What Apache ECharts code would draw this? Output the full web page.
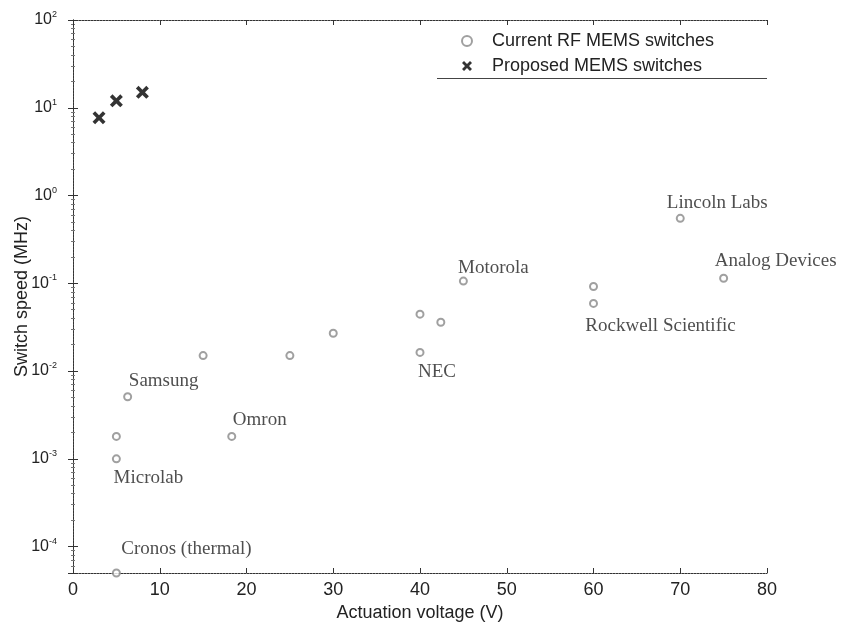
<!DOCTYPE html>
<html><head><meta charset="utf-8">
<script src="https://cdn.jsdelivr.net/npm/echarts@6/dist/echarts.min.js"></script>
<style>html,body{margin:0;padding:0;background:#fff}#c{width:843px;height:627px}</style>
</head><body><div id="c"></div>
<script>
// ---- data ----
var currentVoltage = [5, 5, 5, 6.3, 15, 18.3, 25, 30, 40, 40, 42.4, 45, 60, 60, 70, 75];
var currentSpeed = [5e-5, 0.001, 0.0018, 0.0051, 0.015, 0.0018, 0.015, 0.027, 0.0163, 0.0445, 0.036, 0.106, 0.059, 0.092, 0.55, 0.114];
var currentNames = ['Cronos (thermal)', 'Microlab', '', 'Samsung', '', 'Omron', '', '', 'NEC', '', '', 'Motorola', 'Rockwell Scientific', '', 'Lincoln Labs', 'Analog Devices'];
var proposedVoltage = [3, 5, 8];
var proposedSpeed = [7.7, 12, 15];
var xTicks = [0, 10, 20, 30, 40, 50, 60, 70, 80];
var yDecades = [-4, -3, -2, -1, 0, 1, 2];
var seriesNames = ['Current RF MEMS switches', 'Proposed MEMS switches'];

// ---- label placement (style) ----
var labelOffsets = {
  'Cronos (thermal)': [70, -24],
  'Microlab': [32, 19],
  'Samsung': [36, -16],
  'Omron': [28, -16],
  'NEC': [17, 20],
  'Motorola': [30, -13],
  'Rockwell Scientific': [67, 23],
  'Lincoln Labs': [37, -15],
  'Analog Devices': [52, -17]
};

var crossPath = 'path://M0,2L2,0L5,3L8,0L10,2L7,5L10,8L8,10L5,7L2,10L0,8L3,5Z';

var currentData = currentVoltage.map(function (v, i) {
  var item = { value: [v, currentSpeed[i]] };
  var n = currentNames[i];
  if (n) {
    item.label = {
      show: true, formatter: n, position: 'inside', offset: labelOffsets[n],
      fontFamily: 'Liberation Serif', fontSize: 19, color: '#222'
    };
  }
  return item;
});
var proposedData = proposedVoltage.map(function (v, i) { return [v, proposedSpeed[i]]; });

function yLabel(v) {
  var l = Math.log10(v), e = Math.round(l);
  if (Math.abs(l - e) > 1e-6 || yDecades.indexOf(e) < 0) return '';
  return '{b|10}{s|' + e + '}';
}

var axisLine = { show: true, lineStyle: { color: '#333', width: 1, type: [2, 1] } };
var chart = echarts.init(document.getElementById('c'));
chart.setOption({
  backgroundColor: '#fff',
  animation: false,
  grid: { left: 73, right: 76, top: 20, bottom: 54, containLabel: false, outerBoundsMode: 'none' },
  xAxis: [{
    type: 'value', min: xTicks[0], max: xTicks[xTicks.length - 1], interval: 10,
    name: 'Actuation voltage (V)', nameLocation: 'middle', nameGap: 31,
    nameTextStyle: { fontFamily: 'Liberation Sans', fontSize: 18, color: '#222' },
    axisLine: axisLine, axisTick: { inside: true, length: 5, lineStyle: { color: '#333' } },
    axisLabel: { fontFamily: 'Liberation Sans', fontSize: 18, color: '#222', margin: 8 },
    splitLine: { show: false }
  }, {
    type: 'value', min: xTicks[0], max: xTicks[xTicks.length - 1], interval: 10, position: 'top',
    axisLine: axisLine, axisTick: { inside: true, length: 5, lineStyle: { color: '#333' } },
    axisLabel: { show: false }, splitLine: { show: false }
  }],
  yAxis: [{
    type: 'log', logBase: 10, min: 5e-5, max: 100,
    name: 'Switch speed (MHz)', nameLocation: 'middle', nameGap: 42, nameMoveOverlap: false,
    nameTextStyle: { fontFamily: 'Liberation Sans', fontSize: 18, color: '#222' },
    axisLine: axisLine, axisTick: { inside: true, length: 5, lineStyle: { color: '#333' } },
    minorTick: { show: true, splitNumber: 9, length: 2, lineStyle: { color: '#777' } },
    axisLabel: {
      formatter: yLabel, margin: 16, color: '#222',
      rich: {
        b: { fontFamily: 'Liberation Sans', fontSize: 16, lineHeight: 20, color: '#222' },
        s: { fontFamily: 'Liberation Sans', fontSize: 9, lineHeight: 9, verticalAlign: 'top', color: '#222' }
      }
    },
    splitLine: { show: false }
  }, {
    type: 'log', logBase: 10, min: 5e-5, max: 100, position: 'right',
    axisLine: axisLine, axisTick: { inside: true, length: 5, lineStyle: { color: '#333' } },
    minorTick: { show: true, splitNumber: 9, length: 2, lineStyle: { color: '#777' } },
    axisLabel: { show: false }, splitLine: { show: false }
  }],
  legend: {
    orient: 'vertical', left: 456, top: 27, itemWidth: 40, itemHeight: 10, itemGap: 7,
    textStyle: { fontFamily: 'Liberation Sans', fontSize: 18, color: '#222', lineHeight: 18 },
    data: [
      { name: seriesNames[0], icon: 'emptyCircle', itemStyle: { color: '#888', borderColor: '#888', borderWidth: 1 } },
      { name: seriesNames[1], icon: crossPath, itemStyle: { color: '#000' } }
    ]
  },
  graphic: [{
    type: 'line', shape: { x1: 437, y1: 78.5, x2: 767, y2: 78.5 },
    style: { stroke: '#444', lineWidth: 1 }
  }],
  series: [{
    name: seriesNames[0], type: 'scatter', clip: false,
    symbol: 'emptyCircle', symbolSize: 7,
    itemStyle: { color: '#888', borderColor: '#888', borderWidth: 1 },
    data: currentData
  }, {
    name: seriesNames[1], type: 'scatter', clip: false,
    symbol: crossPath, symbolSize: 13,
    itemStyle: { color: '#000' },
    data: proposedData
  }]
});
</script></body></html>
